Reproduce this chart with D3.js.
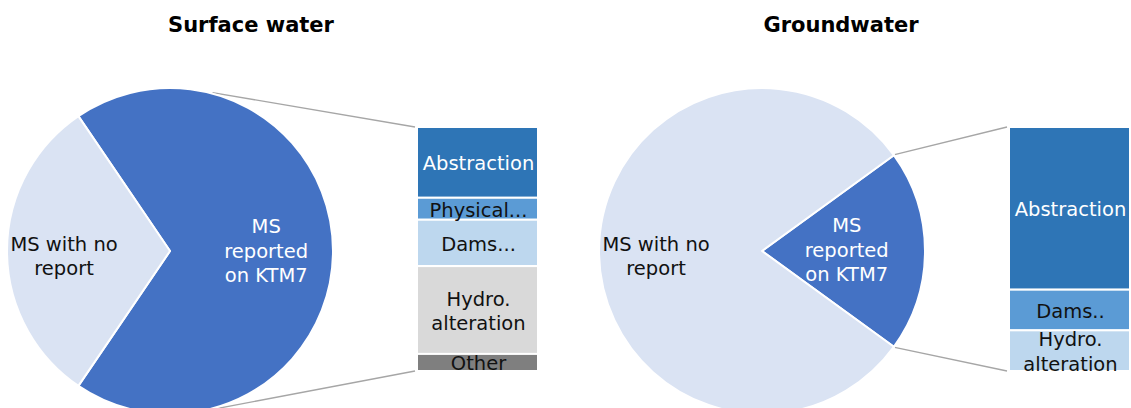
<!DOCTYPE html>
<html>
<head>
<meta charset="utf-8">
<script src="https://cdn.jsdelivr.net/npm/d3@7"></script>
<style>
  html, body { margin: 0; padding: 0; background: #fff; }
  svg { display: block; font-family: "DejaVu Sans", Verdana, sans-serif; }
</style>
</head>
<body>
<svg id="chart" width="1131" height="408"></svg>
<script>
// ---------- Data ----------
const chartTitles = ["Surface water", "Groundwater"];
const pieCategories = ["MS\nreported\non KTM7", "MS with no\nreport"];
const surfacePieValues = [69, 31];
const groundPieValues = [20, 80];

const surfaceBarCategories = ["Abstraction", "Physical...", "Dams...", "Hydro.\nalteration", "Other"];
const surfaceBarValues = [29, 9, 19, 36, 7];

const groundBarCategories = ["Abstraction", "Dams..", "Hydro.\nalteration"];
const groundBarValues = [4, 1, 1];

// ---------- Styles ----------
const pieColors = ["#4472C4", "#DAE3F3"];
const pieTextColors = ["#ffffff", "#111111"];
const surfaceBarColors = ["#2E75B6", "#5B9BD5", "#BDD7EE", "#D9D9D9", "#7F7F7F"];
const surfaceBarText = ["#ffffff", "#111111", "#111111", "#111111", "#111111"];
const groundBarColors = ["#2E75B6", "#5B9BD5", "#BDD7EE"];
const groundBarText = ["#ffffff", "#111111", "#111111"];

const svg = d3.select("#chart");
const FONT = 19.5, LH = 24.5;

function multiline(g, text, x, y, color) {
  const lines = text.split("\n");
  const t = g.append("text")
    .attr("text-anchor", "middle")
    .attr("font-size", FONT)
    .attr("fill", color);
  lines.forEach((ln, i) => {
    t.append("tspan")
      .attr("x", x)
      .attr("y", y + (i - (lines.length - 1) / 2) * LH)
      .attr("dy", "0.35em")
      .text(ln);
  });
}

function drawPanel(cfg) {
  const g = svg.append("g");
  // title
  g.append("text")
    .attr("x", cfg.titleX).attr("y", 32)
    .attr("text-anchor", "middle")
    .attr("font-size", 21).attr("font-weight", "bold")
    .attr("fill", "#000")
    .text(cfg.title);

  const total = d3.sum(cfg.pieValues);
  const frac = cfg.pieValues[0] / total;
  const half = Math.PI * frac;
  const pie = d3.pie().sort(null)
    .startAngle(Math.PI / 2 - half)
    .endAngle(Math.PI / 2 - half + 2 * Math.PI);
  const arcs = pie(cfg.pieValues);
  const arc = d3.arc().innerRadius(0).outerRadius(cfg.r);

  // connector lines
  const bTop = 127, bBot = 371;
  const a = Math.min(half, 75 * Math.PI / 180);
  const yScale = d3.scaleLinear().domain([0, d3.sum(cfg.barValues)]).range([bTop, bBot]);
  [[-1, bTop], [1, bBot]].forEach(([s, yy]) => {
    g.append("line")
      .attr("x1", cfg.cx + (cfg.r + 1) * Math.cos(a))
      .attr("y1", cfg.cy + s * (cfg.r + 1) * Math.sin(a))
      .attr("x2", cfg.barX - 2)
      .attr("y2", yy)
      .attr("stroke", "#A6A6A6").attr("stroke-width", 1.3);
  });

  const pg = g.append("g").attr("transform", `translate(${cfg.cx},${cfg.cy})`);
  pg.selectAll("path").data(arcs).enter().append("path")
    .attr("d", arc)
    .attr("fill", (d, i) => pieColors[i])
    .attr("stroke", "#fff").attr("stroke-width", 2).attr("stroke-linejoin", "round");

  arcs.forEach((d, i) => {
    const m = (d.startAngle + d.endAngle) / 2;
    const k = cfg.labelK[i] * cfg.r;
    multiline(g, pieCategories[i], cfg.cx + k * Math.sin(m), cfg.cy - k * Math.cos(m) + cfg.labelDy[i], pieTextColors[i]);
  });

  // bar
  let acc = 0;
  const stacks = cfg.barValues.map(v => { const s = { y0: acc, y1: acc + v }; acc += v; return s; });
  const bg = g.append("g");
  bg.selectAll("rect").data(stacks).enter().append("rect")
    .attr("x", cfg.barX).attr("width", cfg.barW)
    .attr("y", d => yScale(d.y0))
    .attr("height", d => yScale(d.y1) - yScale(d.y0))
    .attr("fill", (d, i) => cfg.barColors[i])
    .attr("stroke", "#fff").attr("stroke-width", 2);
  stacks.forEach((d, i) => {
    multiline(g, cfg.barCats[i], cfg.barX + cfg.barW / 2 + 1,
      (yScale(d.y0) + yScale(d.y1)) / 2 + 1, cfg.barText[i]);
  });
}

drawPanel({
  title: chartTitles[0], titleX: 251,
  cx: 170, cy: 251, r: 163,
  pieValues: surfacePieValues,
  labelK: [0.59, 0.65], labelDy: [0, 5],
  barX: 417, barW: 121,
  barValues: surfaceBarValues, barCats: surfaceBarCategories,
  barColors: surfaceBarColors, barText: surfaceBarText
});
drawPanel({
  title: chartTitles[1], titleX: 841,
  cx: 762, cy: 251, r: 163,
  pieValues: groundPieValues,
  labelK: [0.52, 0.65], labelDy: [-1, 5],
  barX: 1009, barW: 121,
  barValues: groundBarValues, barCats: groundBarCategories,
  barColors: groundBarColors, barText: groundBarText
});
</script>
</body>
</html>
